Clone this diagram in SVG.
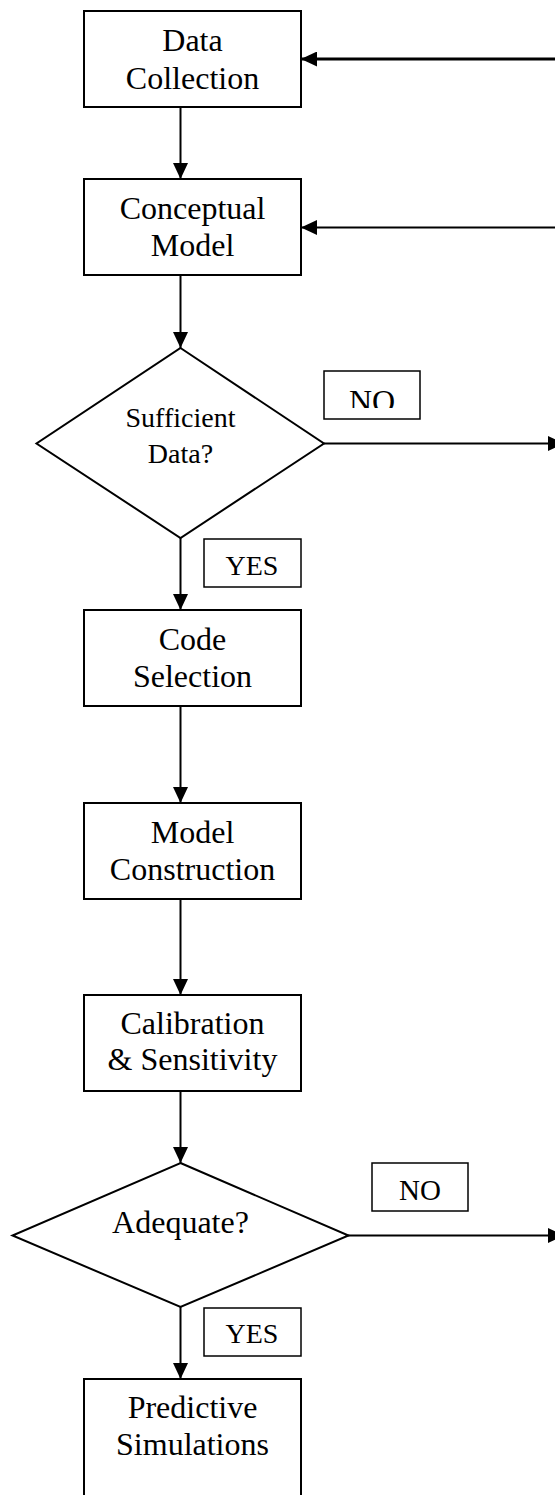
<svg xmlns="http://www.w3.org/2000/svg" width="555" height="1495" viewBox="0 0 555 1495">
  <style>
    .box { fill: #fff; stroke: #000; stroke-width: 2; }
    .lbl { fill: #fff; stroke: #000; stroke-width: 1.5; }
    .t { font-family: "Liberation Serif", "Times New Roman", serif; font-size: 32px; fill: #000; text-anchor: middle; }
    .t28 { font-size: 28px; }
    .t29 { font-size: 29px; }
    .c { fill: none; stroke: #000; stroke-width: 2; }
    .thick { stroke-width: 3; }
  </style>
  <defs>
    <marker id="ah" markerUnits="userSpaceOnUse" markerWidth="16" markerHeight="15" refX="16" refY="7.5" orient="auto">
      <path d="M0,0 L16,7.5 L0,15 Z" fill="#000"/>
    </marker>
    <clipPath id="noclip">
      <rect x="324" y="371" width="96" height="37"/>
    </clipPath>
  </defs>

  <rect width="555" height="1495" fill="#fff"/>

  <g id="connectors">
    <line class="c" x1="180.5" y1="107" x2="180.5" y2="179" marker-end="url(#ah)"/>
    <line class="c" x1="180.5" y1="275" x2="180.5" y2="348" marker-end="url(#ah)"/>
    <line class="c" x1="180.5" y1="538" x2="180.5" y2="610" marker-end="url(#ah)"/>
    <line class="c" x1="180.5" y1="706" x2="180.5" y2="803" marker-end="url(#ah)"/>
    <line class="c" x1="180.5" y1="899" x2="180.5" y2="995" marker-end="url(#ah)"/>
    <line class="c" x1="180.5" y1="1091" x2="180.5" y2="1163" marker-end="url(#ah)"/>
    <line class="c" x1="180.5" y1="1307" x2="180.5" y2="1379" marker-end="url(#ah)"/>
    <line class="c thick" x1="556" y1="59" x2="301" y2="59" marker-end="url(#ah)"/>
    <line class="c" x1="556" y1="227.5" x2="301" y2="227.5" marker-end="url(#ah)"/>
    <line class="c" x1="324" y1="443.5" x2="564" y2="443.5" marker-end="url(#ah)"/>
    <line class="c" x1="348" y1="1235.5" x2="564" y2="1235.5" marker-end="url(#ah)"/>
  </g>

  <g id="data-collection">
    <rect class="box" x="84" y="11" width="217" height="96"/>
    <text class="t" x="192.5" y="51">Data</text>
    <text class="t" x="192.5" y="89">Collection</text>
  </g>

  <g id="conceptual-model">
    <rect class="box" x="84" y="179" width="217" height="96"/>
    <text class="t" x="192.5" y="219">Conceptual</text>
    <text class="t" x="192.5" y="256">Model</text>
  </g>

  <g id="sufficient-data">
    <polygon class="box" points="180.5,348 324,443.5 180.5,538 36.5,443.5"/>
    <text class="t t28" x="180.5" y="427">Sufficient</text>
    <text class="t t28" x="180.5" y="463">Data?</text>
  </g>

  <g id="no-label-1">
    <rect class="lbl" x="324" y="371" width="96" height="48"/>
    <text class="t" x="372" y="412" clip-path="url(#noclip)">NO</text>
  </g>

  <g id="yes-label-1">
    <rect class="lbl" x="204" y="539" width="97" height="48"/>
    <text class="t t28" x="252" y="575">YES</text>
  </g>

  <g id="code-selection">
    <rect class="box" x="84" y="610" width="217" height="96"/>
    <text class="t" x="192.5" y="650">Code</text>
    <text class="t" x="192.5" y="687">Selection</text>
  </g>

  <g id="model-construction">
    <rect class="box" x="84" y="803" width="217" height="96"/>
    <text class="t" x="192.5" y="843">Model</text>
    <text class="t" x="192.5" y="880">Construction</text>
  </g>

  <g id="calibration-sensitivity">
    <rect class="box" x="84" y="995" width="217" height="96"/>
    <text class="t" x="192.5" y="1034">Calibration</text>
    <text class="t" x="192.5" y="1070">&amp; Sensitivity</text>
  </g>

  <g id="adequate">
    <polygon class="box" points="180.5,1163 348.5,1235.5 180.5,1307 12.5,1235.5"/>
    <text class="t" x="180.5" y="1233">Adequate?</text>
  </g>

  <g id="no-label-2">
    <rect class="lbl" x="372" y="1163" width="96" height="48"/>
    <text class="t t29" x="420" y="1200">NO</text>
  </g>

  <g id="yes-label-2">
    <rect class="lbl" x="204" y="1308" width="97" height="48"/>
    <text class="t t28" x="252" y="1343">YES</text>
  </g>

  <g id="predictive-simulations">
    <rect class="box" x="84" y="1379" width="217" height="130"/>
    <text class="t" x="192.5" y="1418">Predictive</text>
    <text class="t" x="192.5" y="1455">Simulations</text>
  </g>
</svg>
